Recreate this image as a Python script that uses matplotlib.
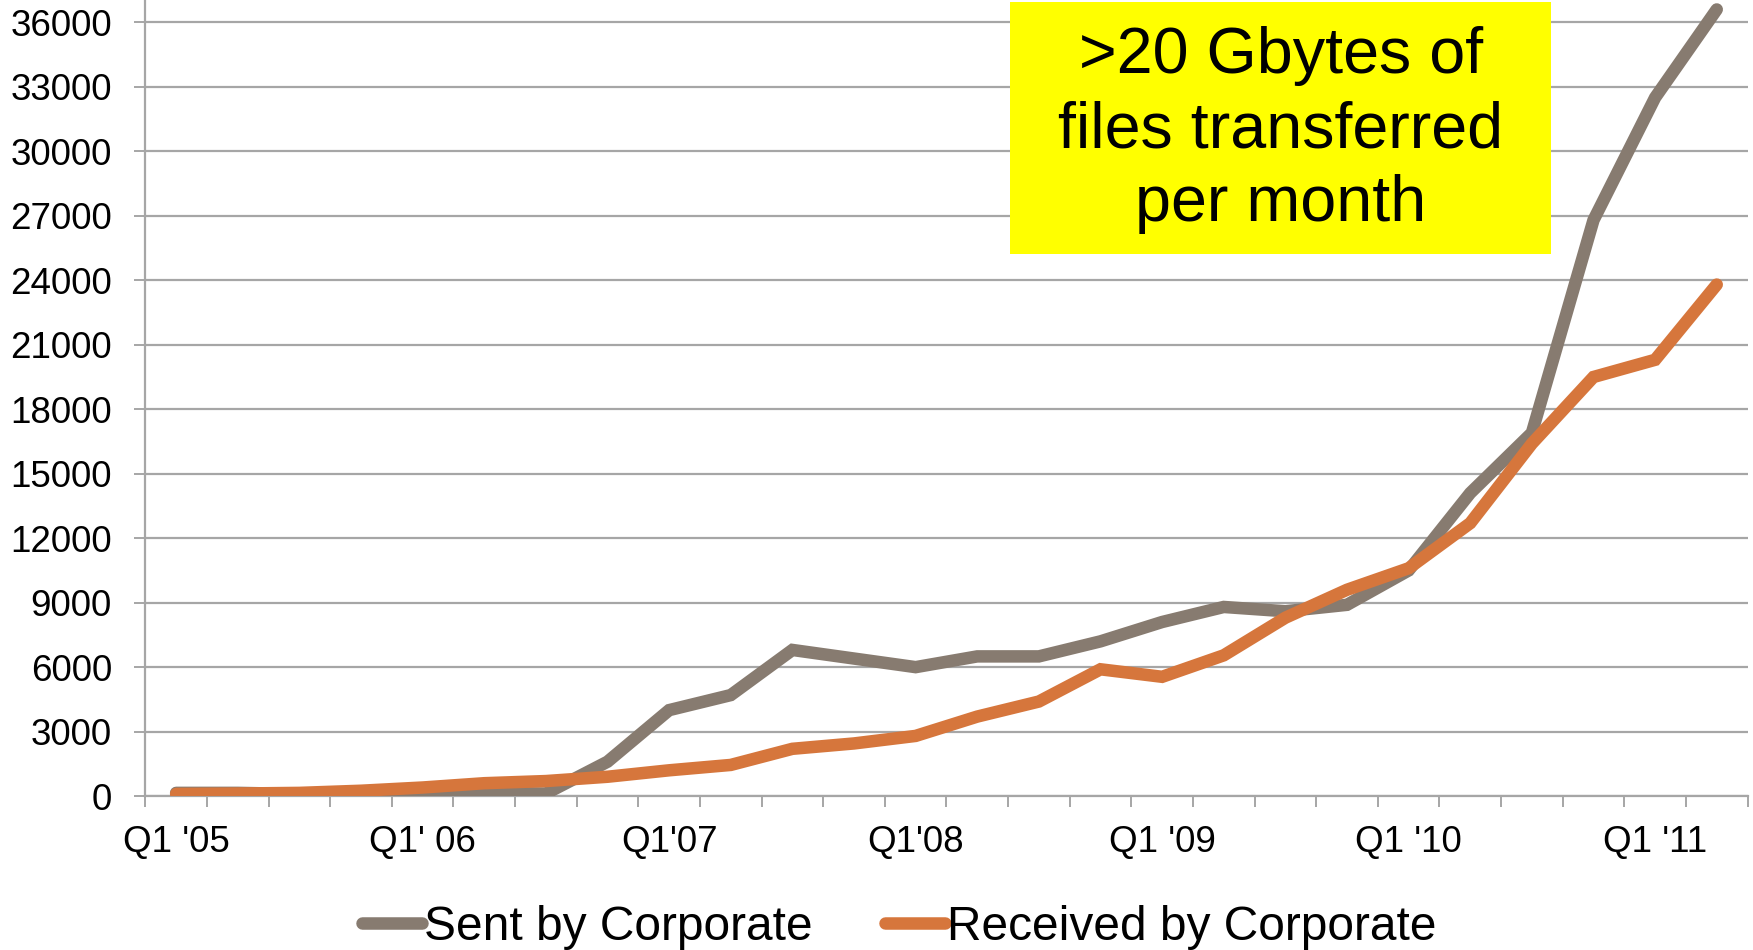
import numpy as np
import matplotlib.pyplot as plt
from matplotlib.patches import Rectangle

plt.rcParams['font.family'] = ['Liberation Sans', 'DejaVu Sans']

# quarters Q1 '05 .. Q2 '11
quarters = np.arange(26)
label_pos = [0, 4, 8, 12, 16, 20, 24]
label_txt = ["Q1 '05", "Q1' 06", "Q1'07", "Q1'08", "Q1 '09", "Q1 '10", "Q1 '11"]

sent = [150, 150, 100, 50, 100, 150, 120, 1600, 4000, 4700, 6800, 6400, 6000, 6500,
        6500, 7200, 8100, 8800, 8600, 8900, 10500, 14100, 16900, 26800, 32500, 36600]
received = [100, 120, 150, 250, 400, 600, 700, 900, 1200, 1450, 2200, 2450, 2800, 3700,
            4400, 5900, 5550, 6550, 8300, 9600, 10600, 12700, 16400, 19500, 20300, 23800]

GRAY = "#877b70"
ORANGE = "#d6763c"
GRID = "#a6a6a6"

fig = plt.figure(figsize=(17.53, 9.5), dpi=100)
ax = fig.add_axes([0.0829, 0.162, 0.914, 0.838])

ax.plot(quarters, sent, color=GRAY, lw=9, solid_capstyle='round',
        solid_joinstyle='miter', label="Sent by Corporate", zorder=3)
ax.plot(quarters, received, color=ORANGE, lw=9, solid_capstyle='round',
        solid_joinstyle='miter', label="Received by Corporate", zorder=4)

ax.set_xlim(-0.5, 25.5)
ax.set_ylim(0, 37040)
ax.set_yticks(np.arange(0, 36001, 3000))
ax.yaxis.grid(True, color=GRID, lw=1.6)
ax.set_axisbelow(True)
ax.tick_params(axis='y', labelsize=26.5, length=8, width=1.4, color=GRID, pad=16)

ax.set_xticks(np.arange(-0.5, 26, 1))
ax.set_xticklabels([])
ax.set_xticks(label_pos, minor=True)
ax.set_xticklabels(label_txt, minor=True)
ax.tick_params(axis='x', which='major', length=8, width=1.4, color=GRID)
ax.tick_params(axis='x', which='minor', length=0, labelsize=26.5, pad=21)

for s in ['top', 'right']:
    ax.spines[s].set_visible(False)
for s in ['left', 'bottom']:
    ax.spines[s].set_color(GRID)
    ax.spines[s].set_linewidth(1.6)

# yellow callout
fig.add_artist(Rectangle((0.576, 0.7326), 0.3086, 0.265, transform=fig.transFigure,
                         facecolor="#ffff00", edgecolor='none', zorder=5))
fig.text(0.7305, 0.863, ">20 Gbytes of\nfiles transferred\nper month", ha='center',
         va='center', fontsize=46.5, linespacing=1.3, zorder=6)

fig.legend(loc='center', bbox_to_anchor=(0.513, 0.024), ncol=2, frameon=False,
           fontsize=34.5, handlelength=1.25, handletextpad=0.05, columnspacing=1.5)

fig.savefig("out.png", dpi=100)
